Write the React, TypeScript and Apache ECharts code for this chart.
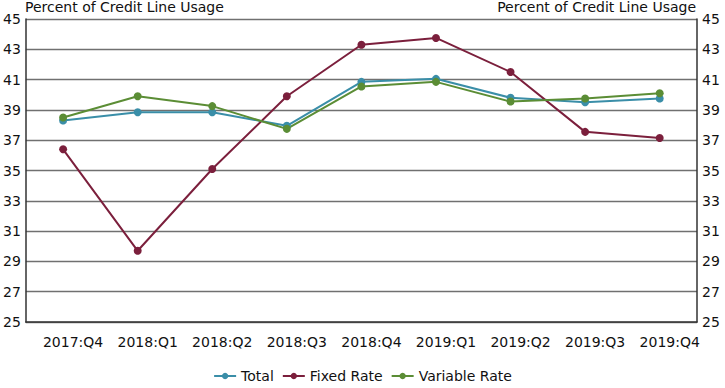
import React, { useEffect, useRef } from "react";
import * as echarts from "echarts";

const categories = ["2017:Q4", "2018:Q1", "2018:Q2", "2018:Q3", "2018:Q4", "2019:Q1", "2019:Q2", "2019:Q3", "2019:Q4"];
const totalValues = [38.3, 38.85, 38.85, 37.95, 40.85, 41.05, 39.8, 39.5, 39.75];
const fixedValues = [36.4, 29.7, 35.1, 39.9, 43.3, 43.75, 41.5, 37.55, 37.15];
const variableValues = [38.5, 39.9, 39.25, 37.75, 40.55, 40.85, 39.55, 39.75, 40.1];
const axisTitle = "Percent of Credit Line Usage";

const FONT = "DejaVu Sans";

export default function App() {
  const ref = useRef<HTMLDivElement>(null);
  useEffect(() => {
    if (!ref.current) return;
    const chart = echarts.init(ref.current, null, { renderer: "svg" });
    const yAxisCommon = {
      type: "value",
      min: 25,
      max: 45,
      interval: 2,
      axisLine: { show: true, lineStyle: { color: "#333", width: 1.5 } },
      axisTick: { show: false },
      splitLine: { show: true, lineStyle: { color: "#707070", width: 1.3 } },
      axisLabel: { color: "#111", fontFamily: FONT, fontSize: 14, margin: 5 },
    };
    const mk = (name: string, data: number[], color: string) => ({
      name,
      type: "line",
      data,
      symbol: "circle",
      symbolSize: 8,
      itemStyle: { color },
      lineStyle: { color, width: 2 },
    });
    chart.setOption({
      animation: false,
      textStyle: { fontFamily: FONT },
      grid: { left: 24, right: 28, top: 19, bottom: 66 },
      xAxis: {
        type: "category",
        data: categories,
        boundaryGap: true,
        axisLine: { show: true, lineStyle: { color: "#333", width: 1.5 } },
        axisTick: { show: false },
        axisLabel: {
          interval: 0,
          hideOverlap: false,
          color: "#111",
          fontFamily: FONT,
          fontSize: 14,
          margin: 13,
          padding: [0, 0, 0, 20],
        },
      },
      yAxis: [
        { ...yAxisCommon, position: "left" },
        { ...yAxisCommon, position: "right", splitLine: { show: false } },
      ],
      legend: {
        bottom: 0,
        left: "center",
        itemGap: 8,
        itemWidth: 22,
        itemHeight: 8,
        textStyle: { color: "#111", fontFamily: FONT, fontSize: 14 },
        data: ["Total", "Fixed Rate", "Variable Rate"],
      },
      graphic: [
        { type: "text", left: 25, top: 0, style: { text: axisTitle, fontFamily: FONT, fontSize: 14, fill: "#111" } },
        { type: "text", right: 29, top: 0, style: { text: axisTitle, fontFamily: FONT, fontSize: 14, fill: "#111" } },
      ],
      series: [
        mk("Total", totalValues, "#3a8ea8"),
        mk("Fixed Rate", fixedValues, "#7b1f3c"),
        mk("Variable Rate", variableValues, "#5b8d35"),
      ],
    });
    return () => chart.dispose();
  }, []);
  return <div ref={ref} style={{ width: 725, height: 388, position: "absolute", left: 0, top: 0 }} />;
}
